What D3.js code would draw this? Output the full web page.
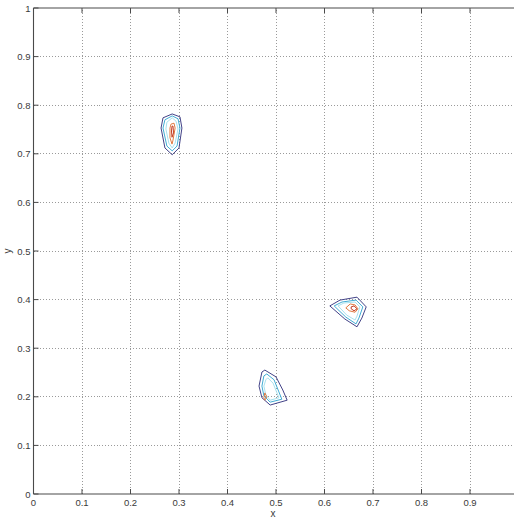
<!DOCTYPE html>
<html><head><meta charset="utf-8">
<script src="https://cdn.jsdelivr.net/npm/d3@7"></script>
<style>
html,body{margin:0;padding:0;background:#fff;overflow:hidden;}
text{font-family:"Liberation Sans",Arial,sans-serif;}
</style></head>
<body>
<svg id="chart" width="514" height="518"></svg>
<script>
// ---- data ----
const xTicks = [0,0.1,0.2,0.3,0.4,0.5,0.6,0.7,0.8,0.9];
const yTicks = [0,0.1,0.2,0.3,0.4,0.5,0.6,0.7,0.8,0.9,1];
const xTickLabels = ["0","0.1","0.2","0.3","0.4","0.5","0.6","0.7","0.8","0.9"];
const yTickLabels = ["0","0.1","0.2","0.3","0.4","0.5","0.6","0.7","0.8","0.9","1"];
const levelNames = ["level1","level2","level3","level4","level5"];
const levelColors = ["#434388","#42acd4","#a8e2ee","#e07a40","#c23a22"];

// cluster A (around 0.28, 0.74)
const clusterA = [
  [[0.267,0.774],[0.286,0.782],[0.302,0.776],[0.306,0.753],[0.300,0.712],[0.286,0.698],[0.271,0.712],[0.263,0.753]],
  [[0.271,0.770],[0.286,0.778],[0.298,0.772],[0.302,0.753],[0.296,0.716],[0.286,0.706],[0.275,0.716],[0.267,0.753]],
  [[0.275,0.765],[0.286,0.774],[0.294,0.767],[0.298,0.751],[0.292,0.722],[0.286,0.712],[0.279,0.722],[0.273,0.751]],
  [[0.2835,0.761],[0.2897,0.763],[0.292,0.753],[0.2876,0.728],[0.2856,0.720],[0.2814,0.733],[0.2814,0.753]],
  [[0.2856,0.757],[0.2876,0.757],[0.2887,0.743],[0.2856,0.734],[0.2845,0.747]]
];
// cluster B (around 0.65, 0.38)
const clusterB = [
  [[0.611,0.387],[0.632,0.399],[0.667,0.405],[0.686,0.385],[0.677,0.362],[0.667,0.344],[0.642,0.360]],
  [[0.620,0.387],[0.636,0.395],[0.665,0.399],[0.679,0.385],[0.671,0.362],[0.665,0.350],[0.644,0.364]],
  [[0.628,0.387],[0.640,0.393],[0.663,0.395],[0.673,0.385],[0.667,0.366],[0.663,0.358],[0.646,0.368]],
  [[0.644,0.383],[0.653,0.391],[0.663,0.389],[0.669,0.381],[0.663,0.374],[0.651,0.377]],
  [[0.655,0.385],[0.661,0.387],[0.667,0.381],[0.661,0.377],[0.655,0.381]]
];
// cluster C (around 0.49, 0.21)
const clusterC = [
  [[0.471,0.251],[0.477,0.255],[0.500,0.241],[0.514,0.214],[0.523,0.193],[0.488,0.183],[0.471,0.198],[0.465,0.222]],
  [[0.475,0.243],[0.481,0.247],[0.496,0.235],[0.506,0.210],[0.512,0.195],[0.488,0.189],[0.475,0.202],[0.471,0.222]],
  [[0.479,0.235],[0.483,0.239],[0.494,0.228],[0.502,0.208],[0.506,0.198],[0.488,0.193],[0.479,0.204],[0.475,0.222]],
  [[0.475,0.198],[0.477,0.208],[0.481,0.200],[0.477,0.193]]
];
const clusters = [clusterA, clusterB, clusterC];

// ---- layout ----
const svg = d3.select("#chart");
const L = 33.5, T = 8, Rpx = 518.5, B = 494;
const x = d3.scaleLinear().domain([0,1]).range([L, Rpx]);
const y = d3.scaleLinear().domain([0,1]).range([B, T]);

// grid
const gridColor = "#9a9a9a";
const grid = svg.append("g");
grid.selectAll("line.gx").data(xTicks.filter(d=>d>0)).join("line")
  .attr("x1",d=>x(d)).attr("x2",d=>x(d)).attr("y1",B).attr("y2",T)
  .attr("stroke",gridColor).attr("stroke-width",1).attr("stroke-dasharray","1,2").attr("shape-rendering","crispEdges");
grid.selectAll("line.gy").data(yTicks.filter(d=>d>0 && d<1)).join("line")
  .attr("y1",d=>y(d)).attr("y2",d=>y(d)).attr("x1",L).attr("x2",Rpx)
  .attr("stroke",gridColor).attr("stroke-width",1).attr("stroke-dasharray","1,2").attr("shape-rendering","crispEdges");

// contours
const line = d3.line().x(d=>x(d[0])).y(d=>y(d[1])).curve(d3.curveLinearClosed);
clusters.forEach(cl=>{
  svg.append("g").selectAll("path").data(cl).join("path")
    .attr("d",line).attr("fill","none")
    .attr("stroke",(d,i)=>levelColors[i]).attr("stroke-width",1)
    .attr("stroke-linejoin","round");
});

// axes
const ax = svg.append("g");
const axisColor = "#4a4a4a";
ax.append("line").attr("x1",L).attr("x2",Rpx).attr("y1",B).attr("y2",B).attr("stroke",axisColor).attr("stroke-width",1.1);
ax.append("line").attr("x1",L).attr("x2",Rpx).attr("y1",T).attr("y2",T).attr("stroke",axisColor).attr("stroke-width",1.1);
ax.append("line").attr("x1",L).attr("x2",L).attr("y1",T).attr("y2",B).attr("stroke",axisColor).attr("stroke-width",1.1);
ax.selectAll("line.xtb").data(xTicks).join("line")
  .attr("x1",d=>x(d)).attr("x2",d=>x(d)).attr("y1",B).attr("y2",B-5).attr("stroke",axisColor);
ax.selectAll("line.xtt").data(xTicks).join("line")
  .attr("x1",d=>x(d)).attr("x2",d=>x(d)).attr("y1",T).attr("y2",T+5).attr("stroke",axisColor);
ax.selectAll("line.ytl").data(yTicks).join("line")
  .attr("y1",d=>y(d)).attr("y2",d=>y(d)).attr("x1",L).attr("x2",L+5).attr("stroke",axisColor);
ax.selectAll("text.xl").data(xTicks).join("text")
  .attr("x",d=>x(d)).attr("y",B+12).attr("text-anchor","middle")
  .attr("font-size",9.5).attr("fill","#3a3a3a").text((d,i)=>xTickLabels[i]);
ax.selectAll("text.yl").data(yTicks).join("text")
  .attr("x",L-3).attr("y",d=>y(d)+3.5).attr("text-anchor","end")
  .attr("font-size",9.5).attr("fill","#3a3a3a").text((d,i)=>yTickLabels[i]);
svg.append("text").attr("x",(L+Rpx)/2 - 3).attr("y",B+22.5).attr("text-anchor","middle")
  .attr("font-size",10).attr("fill","#3a3a3a").text("x");
svg.append("text").attr("transform",`translate(11,${(T+B)/2}) rotate(-90)`).attr("text-anchor","middle")
  .attr("font-size",10).attr("fill","#3a3a3a").text("y");
</script>
</body></html>
